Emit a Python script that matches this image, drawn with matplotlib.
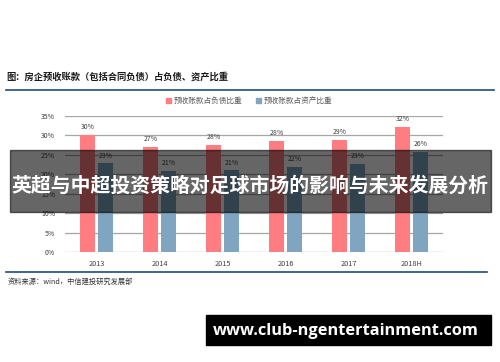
import matplotlib
matplotlib.use("Agg")
import matplotlib.pyplot as plt
from matplotlib.patches import Rectangle
from matplotlib.lines import Line2D
import numpy as np

plt.rcParams['font.family'] = ['Noto Sans CJK SC', 'DejaVu Sans']

# data
years = ["2013", "2014", "2015", "2016", "2017", "2018H"]
share_of_liabilities = [30.2, 27.1, 27.6, 28.5, 28.9, 32.1]
share_of_assets = [22.8, 20.8, 21.0, 21.8, 22.7, 25.7]
series_names = ["预收账款占负债比重", "预收账款占资产比重"]
yticks = [0, 5, 10, 15, 20, 25, 30, 35]

title = "图：房企预收账款（包括合同负债）占负债、资产比重"
source = "资料来源：wind，中信建投研究发展部"
banner = "英超与中超投资策略对足球市场的影响与未来发展分析"
watermark = "www.club-ngentertainment.com"

W, H = 500, 362
RED = "#FF7C80"
BLUE = "#7FA5C0"
NAVY = "#1F4E79"

fig = plt.figure(figsize=(W / 100, H / 100), dpi=100, facecolor="white")


def fx(px):
    return px / W


def fy(py):
    # py measured from the top of the image
    return 1 - py / H


# plot area
ax = fig.add_axes([fx(65), fy(252), fx(443) - fx(65), fy(116) - fy(252)])
x = np.arange(len(years))
off, bw = 0.143, 0.225
b1 = ax.bar(x - off, share_of_liabilities, bw, color=RED, zorder=3)
b2 = ax.bar(x + off, share_of_assets, bw, color=BLUE, zorder=3)
for bars, vals in ((b1, share_of_liabilities), (b2, share_of_assets)):
    for r, v in zip(bars, vals):
        ax.text(r.get_x() + r.get_width() / 2, v + 1.0, f"{round(v)}%",
                ha="center", va="bottom", fontsize=5, color="#404040")

ax.set_xlim(-0.5, len(years) - 0.5)
ax.set_ylim(0, 35)
ax.set_yticks(yticks)
ax.set_yticklabels([f"{t}%" for t in yticks], fontsize=5, color="#404040")
ax.set_xticks(x)
ax.set_xticklabels(years, fontsize=5.3, color="#404040")
ax.tick_params(length=0, pad=7)
ax.tick_params(axis="x", pad=6)
ax.grid(axis="y", color="#A6A6A6", lw=0.9, zorder=0)
for s in ax.spines.values():
    s.set_visible(False)
ax.set_facecolor("none")

# legend
for sx, col, name in ((166, RED, series_names[0]), (256, BLUE, series_names[1])):
    fig.patches.append(Rectangle((fx(sx), fy(103)), fx(5), 5 / H, color=col,
                                 transform=fig.transFigure))
    fig.text(fx(sx + 8), fy(100.5), name, fontsize=5.5, color="#595959",
             va="center", ha="left")

# title and rules
fig.text(fx(6), fy(77), title, fontsize=6.7, fontweight="bold",
         color="#1a1a1a", va="center", ha="left")
fig.add_artist(Line2D([fx(6), fx(494)], [fy(90), fy(90)], color=NAVY, lw=1.2))
fig.add_artist(Line2D([fx(6), fx(487)], [fy(272), fy(272)], color=NAVY, lw=1.2))
fig.text(fx(8), fy(282), source, fontsize=5.2, color="#333333",
         va="center", ha="left", style="italic")

# overlay banner
fig.patches.append(Rectangle((fx(10), fy(212)), fx(491) - fx(10), (212 - 150) / H,
                             color="black", alpha=0.6, transform=fig.transFigure,
                             zorder=10))
fig.text(fx(250), fy(185), banner, fontsize=14.3, fontweight="bold", color="white",
         va="center", ha="center", zorder=11)

# watermark box
fig.patches.append(Rectangle((fx(206), fy(345)), fx(491) - fx(206), (345 - 315) / H,
                             color="black", transform=fig.transFigure, zorder=10))
fig.text(fx(346), fy(331), watermark, fontsize=11.8, fontweight="bold", color="white",
         va="center", ha="center", zorder=11, family="Open Sans")

fig.savefig("out.png", dpi=100, facecolor="white")
